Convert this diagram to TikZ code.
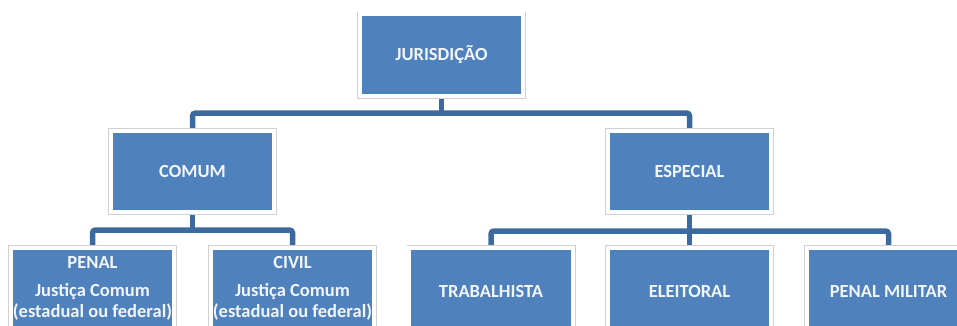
\documentclass[tikz,border=0pt]{standalone}
\usepackage{fontspec}
\setmainfont{Carlito}
\usetikzlibrary{backgrounds}
\definecolor{boxblue}{HTML}{4F81BD}
\definecolor{linkblue}{HTML}{3D6A9E}
\definecolor{labelwhite}{HTML}{F2F5FA}
\begin{document}
\begin{tikzpicture}[x=1pt,y=-1pt,
  orgbox/.style={draw=white, line width=4pt, fill=boxblue,
    minimum width=163.5pt, minimum height=81.5pt, inner sep=0pt,
    align=center, text=labelwhite,
    font=\fontsize{18.5}{21}\selectfont\bfseries,
    preaction={draw=black!18, line width=5.5pt}},
  lowtext/.style={text height=18.5pt, text depth=0pt},
  link/.style={draw=linkblue, line width=5.5pt, rounded corners=3pt}]
\useasboundingbox (0,0) rectangle (957,325);

% top level
\node[orgbox] (jur) at (441.5,55) {JURISDIÇÃO};
% second level
\node[orgbox] (comum) at (192.5,171.5) {COMUM};
\node[orgbox] (esp) at (689.5,171.5) {ESPECIAL};
% third level
\node[orgbox] (penal) at (92.5,288.5) {PENAL\\[7pt]Justiça Comum\\(estadual ou federal)};
\node[orgbox] (civil) at (292.5,288.5) {CIVIL\\[7pt]Justiça Comum\\(estadual ou federal)};
\node[orgbox, lowtext] (trab) at (491,288.5) {TRABALHISTA};
\node[orgbox, lowtext] (eleit) at (689.5,288.5) {ELEITORAL};
\node[orgbox, lowtext] (pmil) at (888.5,288.5) {PENAL MILITAR};

% bus bars
\coordinate (busA) at (441.5,113);
\coordinate (busB) at (192.5,230);
\coordinate (busC) at (689.5,231);

\begin{scope}[on background layer]
  \fill[white] (0,0) rectangle (957,325);
  \draw[link] (jur.south) -- (jur.south |- busA);
  \draw[link] (comum.north) |- (busA) -| (esp.north);
  \draw[link] (comum.south) -- (comum.south |- busB);
  \draw[link] (penal.north) |- (busB) -| (civil.north);
  \draw[link] (esp.south) -- (eleit.north);
  \draw[link] (trab.north) |- (busC) -| (pmil.north);
\end{scope}
\end{tikzpicture}
\end{document}
